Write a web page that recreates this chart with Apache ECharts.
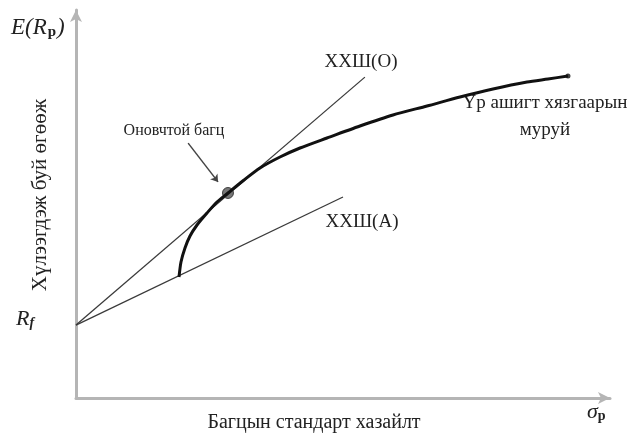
<!DOCTYPE html>
<html>
<head>
<meta charset="utf-8">
<script src="https://cdn.jsdelivr.net/npm/echarts@6/dist/echarts.min.js"></script>
<style>html,body{margin:0;padding:0;background:#fff}#c{width:635px;height:435px}</style>
</head>
<body>
<div id="c"></div>
<script>
// Abstract units: sigma (x) and expected return (y), 0..100
const cmlO = [[0, 18.8], [54.1, 82.7]];           // ХХШ(О)
const cmlA = [[0, 18.8], [50.0, 51.8]];           // ХХШ(А)
const frontierX = [19.29, 19.66, 20.41, 21.35, 22.66, 24.53, 26.40, 28.46, 31.46, 34.46, 38.20,
                   41.95, 47.00, 53.18, 59.36, 65.73, 71.91, 78.09, 84.46, 88.39, 92.13];
const frontierY = [31.19, 35.05, 38.66, 41.75, 44.59, 47.68, 50.52, 52.84, 56.19, 59.28, 62.11,
                   64.43, 67.01, 70.10, 72.94, 75.26, 77.58, 79.64, 81.44, 82.22, 82.99];
const optimal = [28.46, 52.84];
const arrowFrom = [21.0, 65.7];
const arrowTo = [26.6, 55.7];

const frontier = frontierX.map((x, i) => [x, frontierY[i]]);
const serif = '"Liberation Serif", "DejaVu Serif", serif';
const txtColor = '#222';

const chart = echarts.init(document.getElementById('c'), null, {renderer: 'canvas'});
chart.setOption({
  animation: false,
  backgroundColor: '#fff',
  grid: {left: 76, top: 10, width: 534, height: 388, containLabel: false},
  xAxis: {
    type: 'value', min: 0, max: 100,
    axisLine: {show: true, symbol: ['none', 'arrow'], symbolSize: [9, 12], lineStyle: {color: '#b5b5b5', width: 3}},
    axisTick: {show: false}, axisLabel: {show: false}, splitLine: {show: false}
  },
  yAxis: {
    type: 'value', min: 0, max: 100,
    axisLine: {show: true, symbol: ['none', 'arrow'], symbolSize: [9, 12], lineStyle: {color: '#b5b5b5', width: 3}},
    axisTick: {show: false}, axisLabel: {show: false}, splitLine: {show: false}
  },
  series: [
    {
      type: 'line', data: cmlO, symbol: 'none',
      lineStyle: {color: '#3a3a3a', width: 1.3}
    },
    {
      type: 'line', data: cmlA, symbol: 'none',
      lineStyle: {color: '#3a3a3a', width: 1.3}
    },
    {
      type: 'line', data: frontier, smooth: 0.25, symbol: 'none',
      lineStyle: {color: '#111', width: 3}
    },
    {
      type: 'scatter', data: [optimal], symbolSize: 11,
      itemStyle: {color: '#555', borderColor: '#222', borderWidth: 1},
      markLine: {
        silent: true, symbol: ['none', 'arrow'], symbolSize: 7,
        lineStyle: {color: '#444', width: 1.5, type: 'solid'},
        label: {show: false},
        data: [[{coord: arrowFrom}, {coord: arrowTo}]]
      }
    },
    {
      type: 'scatter', data: [frontier[frontier.length - 1]], symbolSize: 5,
      itemStyle: {color: '#111'}
    }
  ],
  graphic: [
    {type: 'text', left: 11, top: 16, style: {
      rich: {
        a: {fontFamily: serif, fontStyle: 'italic', fontSize: 23, fill: txtColor},
        s: {fontFamily: serif, fontWeight: 'bold', fontSize: 15, fill: txtColor, padding: [9, 1, 0, 1]}
      },
      text: '{a|E(R}{s|p}{a|)}'
    }},
    {type: 'text', left: 16, top: 308, style: {
      rich: {
        a: {fontFamily: serif, fontStyle: 'italic', fontSize: 22, fill: txtColor},
        s: {fontFamily: serif, fontStyle: 'italic', fontWeight: 'bold', fontSize: 14, fill: txtColor, padding: [9, 0, 0, 0]}
      },
      text: '{a|R}{s|f}'
    }},
    {type: 'text', x: 40, y: 195, rotation: Math.PI / 2, style: {
      text: 'Хүлээгдэж буй өгөөж', fontFamily: serif, fontSize: 21, fill: txtColor,
      align: 'center', verticalAlign: 'middle'
    }},
    {type: 'text', x: 361, y: 62, style: {
      text: 'ХХШ(О)', fontFamily: serif, fontSize: 19, fill: txtColor, align: 'center', verticalAlign: 'middle'
    }},
    {type: 'text', x: 362, y: 222, style: {
      text: 'ХХШ(А)', fontFamily: serif, fontSize: 19, fill: txtColor, align: 'center', verticalAlign: 'middle'
    }},
    {type: 'text', x: 174, y: 131, style: {
      text: 'Оновчтой багц', fontFamily: serif, fontSize: 16, fill: txtColor, align: 'center', verticalAlign: 'middle'
    }},
    {type: 'text', x: 545, y: 117, style: {
      text: 'Үр ашигт хязгаарын\nмуруй', fontFamily: serif, fontSize: 19, lineHeight: 27, fill: txtColor, align: 'center', verticalAlign: 'middle'
    }},
    {type: 'text', x: 314, y: 423, style: {
      text: 'Багцын стандарт хазайлт', fontFamily: serif, fontSize: 20, fill: txtColor, align: 'center', verticalAlign: 'middle'
    }},
    {type: 'text', left: 587, top: 401, style: {
      rich: {
        a: {fontFamily: serif, fontStyle: 'italic', fontSize: 22, fill: txtColor},
        s: {fontFamily: serif, fontWeight: 'bold', fontSize: 14, fill: txtColor, padding: [9, 0, 0, 0]}
      },
      text: '{a|σ}{s|p}'
    }}
  ]
});
</script>
</body>
</html>
